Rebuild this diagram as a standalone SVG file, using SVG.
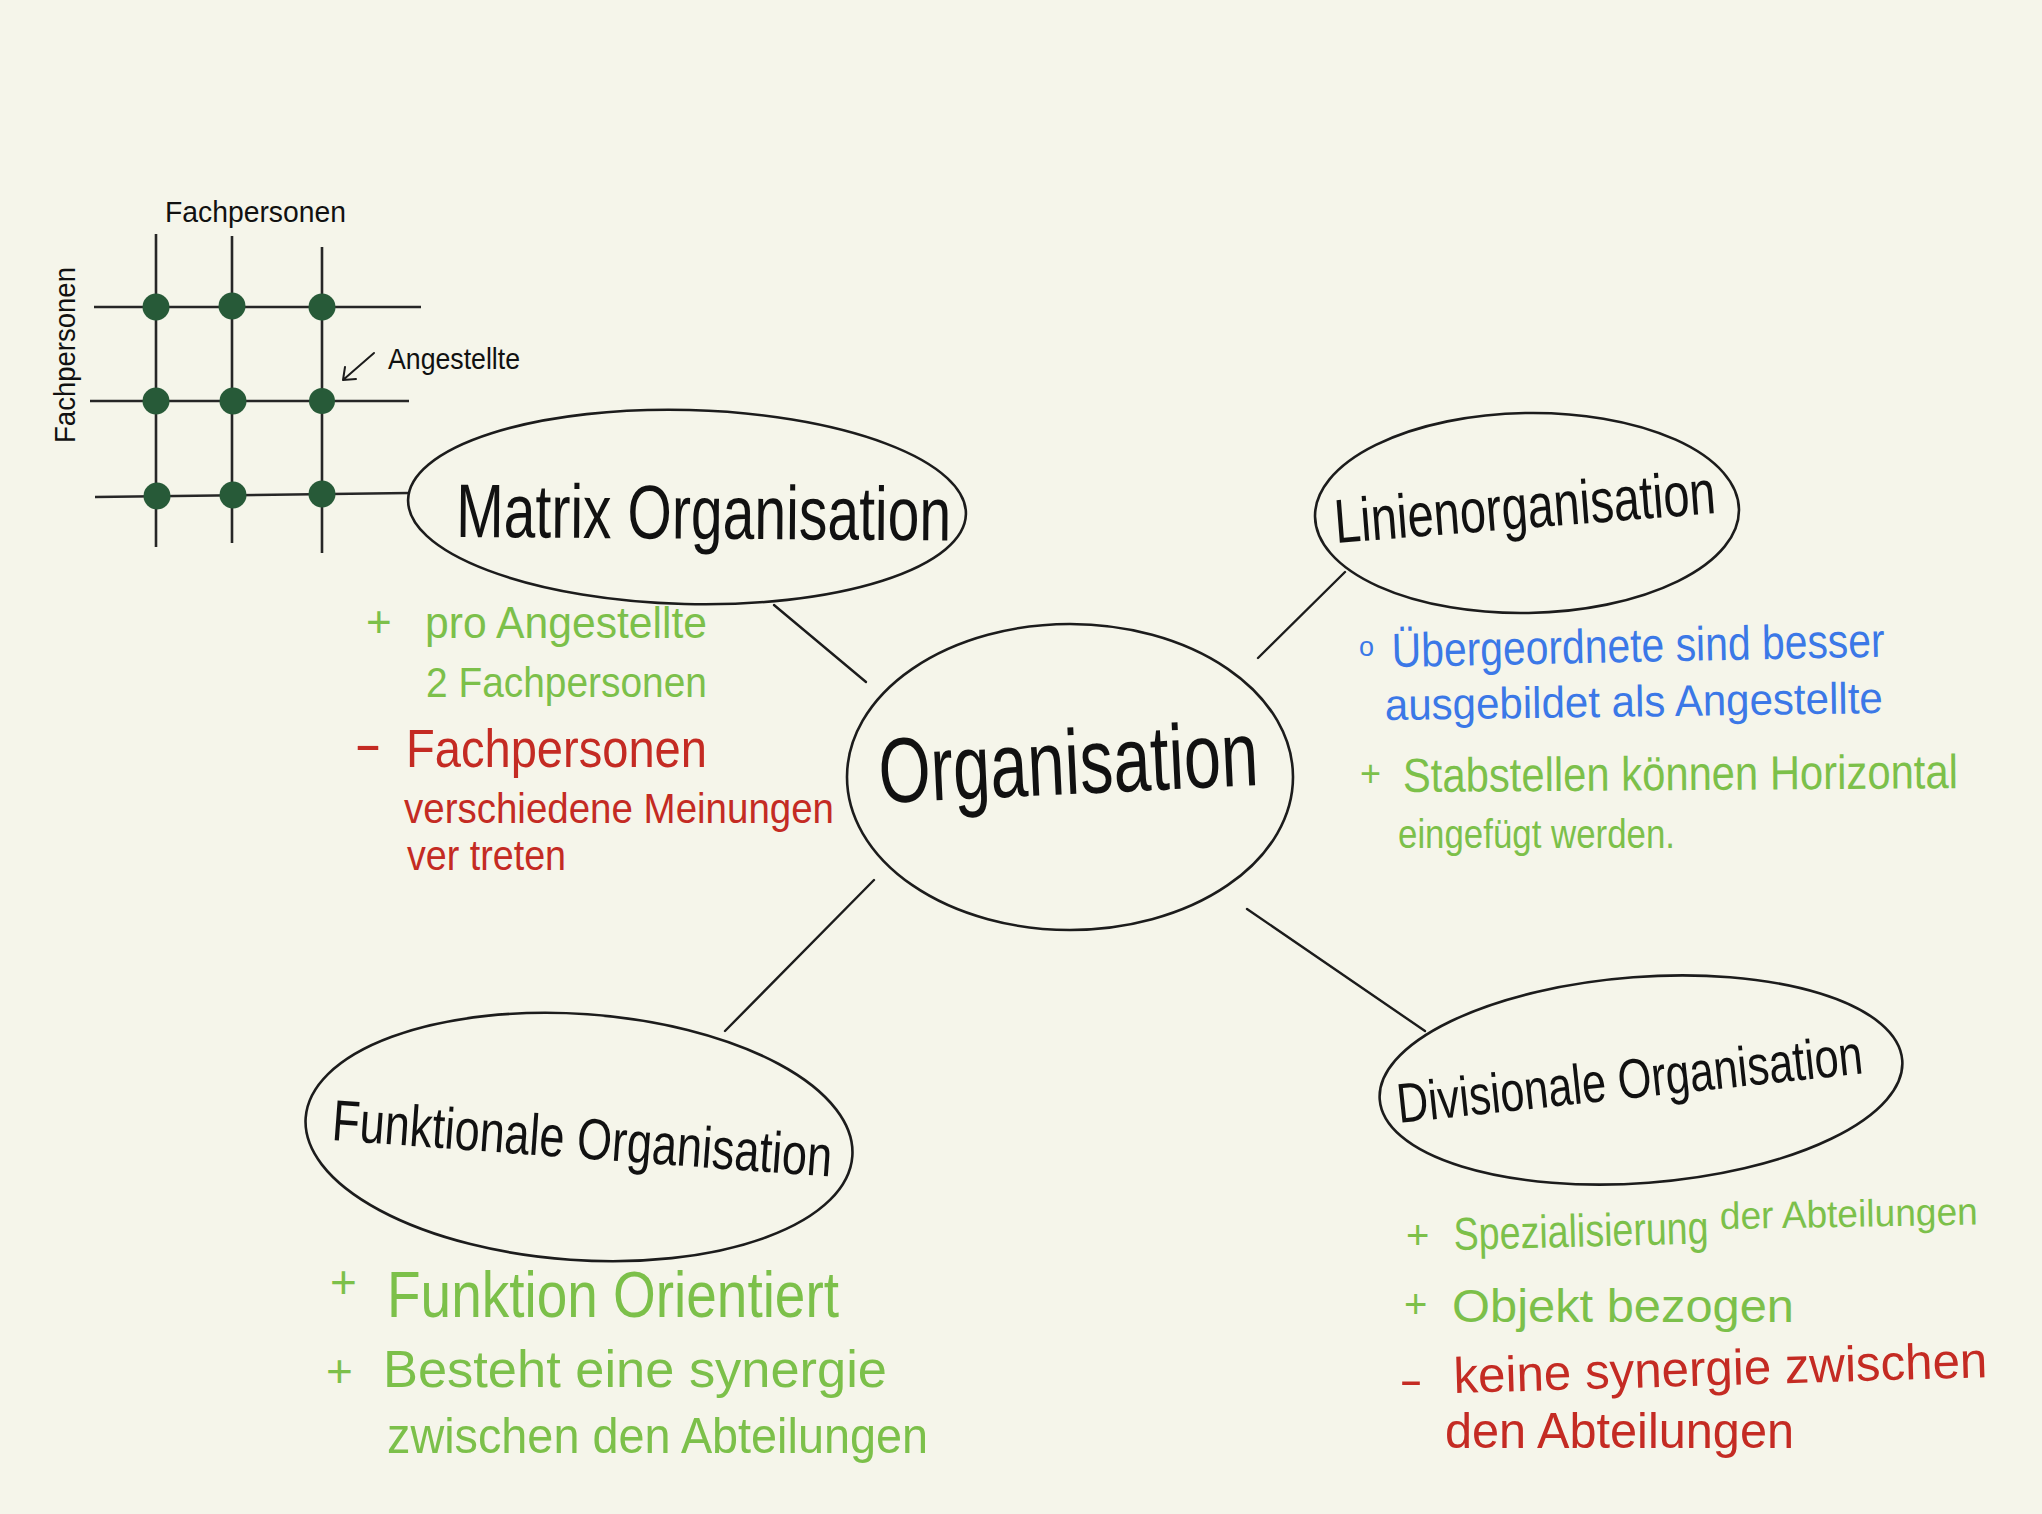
<svg xmlns="http://www.w3.org/2000/svg" width="2042" height="1514" viewBox="0 0 2042 1514">
<style>
text{font-family:"Liberation Sans","DejaVu Sans",sans-serif;}
.node{fill:none;stroke:#1c1c1c;stroke-width:2.6;}
.lbl{fill:#111;}
.edge{stroke:#1c1c1c;stroke-width:2.4;fill:none;stroke-linecap:round;}
.grid{stroke:#262626;stroke-width:2.6;fill:none;}
.dot{fill:#275a38;}
.g{fill:#7cc04a;}
.r{fill:#c42b23;}
.b{fill:#3b78e7;}
</style>
<rect x="0" y="0" width="2042" height="1514" fill="#f5f5ea"/>

<g id="connectors">
  <line class="edge" x1="774" y1="605" x2="866" y2="682"/>
  <line class="edge" x1="1345" y1="572" x2="1258" y2="658"/>
  <line class="edge" x1="874" y1="880" x2="725" y2="1031"/>
  <line class="edge" x1="1247" y1="909" x2="1425" y2="1031"/>
</g>

<g id="matrix-grid">
  <line class="grid" x1="156" y1="234" x2="156" y2="547"/>
  <line class="grid" x1="232" y1="236" x2="232" y2="543"/>
  <line class="grid" x1="322" y1="247" x2="322" y2="553"/>
  <line class="grid" x1="94" y1="307" x2="421" y2="307"/>
  <line class="grid" x1="90" y1="401" x2="409" y2="401"/>
  <line class="grid" x1="95" y1="497" x2="409" y2="493"/>
  <circle class="dot" cx="156" cy="307" r="13.5"/>
  <circle class="dot" cx="232" cy="306" r="13.5"/>
  <circle class="dot" cx="322" cy="307" r="13.5"/>
  <circle class="dot" cx="156" cy="401" r="13.5"/>
  <circle class="dot" cx="233" cy="401" r="13.5"/>
  <circle class="dot" cx="322" cy="401" r="13"/>
  <circle class="dot" cx="157" cy="496" r="13.5"/>
  <circle class="dot" cx="233" cy="495" r="13.5"/>
  <circle class="dot" cx="322" cy="494" r="13.5"/>
  <text x="165" y="222" font-size="30" textLength="181" lengthAdjust="spacingAndGlyphs" class="lbl">Fachpersonen</text>
  <text x="75" y="443" font-size="30" textLength="176" lengthAdjust="spacingAndGlyphs" class="lbl" transform="rotate(-90 75 443)">Fachpersonen</text>
  <text x="388" y="369" font-size="30" textLength="132" lengthAdjust="spacingAndGlyphs" class="lbl">Angestellte</text>
  <path d="M374,353 L343,380 M345,367 L343,380 L356,379" stroke="#1c1c1c" stroke-width="2" fill="none" stroke-linecap="round" stroke-linejoin="round"/>
</g>

<g id="node-organisation">
  <ellipse class="node" cx="1070" cy="777" rx="223" ry="153"/>
  <text x="880" y="803" font-size="92" textLength="380" lengthAdjust="spacingAndGlyphs" class="lbl" transform="rotate(-2.7 880 803)">Organisation</text>
</g>

<g id="node-matrix">
  <ellipse class="node" cx="687" cy="507" rx="279" ry="97" transform="rotate(1.5 687 507)"/>
  <text x="456" y="537" font-size="76" textLength="495" lengthAdjust="spacingAndGlyphs" class="lbl" transform="rotate(0.4 456 537)">Matrix Organisation</text>
</g>

<g id="node-linien">
  <ellipse class="node" cx="1527" cy="513" rx="212" ry="100" transform="rotate(-1 1527 513)"/>
  <text x="1336" y="543" font-size="62" textLength="382" lengthAdjust="spacingAndGlyphs" class="lbl" transform="rotate(-4.5 1336 543)">Linienorganisation</text>
</g>

<g id="node-funktional">
  <ellipse class="node" cx="579" cy="1137" rx="274" ry="123" transform="rotate(4 579 1137)"/>
  <text x="331" y="1140" font-size="58" textLength="501" lengthAdjust="spacingAndGlyphs" class="lbl" transform="rotate(4.2 331 1140)">Funktionale Organisation</text>
</g>

<g id="node-divisional">
  <ellipse class="node" cx="1641" cy="1080" rx="262" ry="103" transform="rotate(-4.3 1641 1080)"/>
  <text x="1399" y="1123" font-size="56" textLength="468" lengthAdjust="spacingAndGlyphs" class="lbl" transform="rotate(-6.1 1399 1123)">Divisionale Organisation</text>
</g>

<g id="notes-matrix">
  <text x="366" y="637" font-size="44" class="g">+</text>
  <text x="425" y="638" font-size="44" textLength="282" lengthAdjust="spacingAndGlyphs" class="g">pro Angestellte</text>
  <text x="426" y="697" font-size="42" textLength="281" lengthAdjust="spacingAndGlyphs" class="g">2 Fachpersonen</text>
  <text x="354" y="762" font-size="52" textLength="28" lengthAdjust="spacingAndGlyphs" class="r">-</text>
  <text x="406" y="767" font-size="54" textLength="301" lengthAdjust="spacingAndGlyphs" class="r">Fachpersonen</text>
  <text x="404" y="823" font-size="42" textLength="430" lengthAdjust="spacingAndGlyphs" class="r">verschiedene Meinungen</text>
  <text x="407" y="870" font-size="42" textLength="159" lengthAdjust="spacingAndGlyphs" class="r">ver treten</text>
</g>

<g id="notes-linien">
  <text x="1359" y="656" font-size="27" class="b">o</text>
  <text x="1392" y="667" font-size="48" textLength="493" lengthAdjust="spacingAndGlyphs" class="b" transform="rotate(-1.2 1392 667)">Übergeordnete sind besser</text>
  <text x="1385" y="720" font-size="44" textLength="498" lengthAdjust="spacingAndGlyphs" class="b" transform="rotate(-0.8 1385 720)">ausgebildet als Angestellte</text>
  <text x="1360" y="786" font-size="36" class="g">+</text>
  <text x="1403" y="792" font-size="48" textLength="555" lengthAdjust="spacingAndGlyphs" class="g" transform="rotate(-0.4 1403 792)">Stabstellen können Horizontal</text>
  <text x="1398" y="848" font-size="40" textLength="277" lengthAdjust="spacingAndGlyphs" class="g">eingefügt werden.</text>
</g>

<g id="notes-funktional">
  <text x="330" y="1298" font-size="46" class="g">+</text>
  <text x="387" y="1317" font-size="64" textLength="452" lengthAdjust="spacingAndGlyphs" class="g">Funktion Orientiert</text>
  <text x="326" y="1387" font-size="46" class="g">+</text>
  <text x="383" y="1387" font-size="52" textLength="504" lengthAdjust="spacingAndGlyphs" class="g">Besteht eine synergie</text>
  <text x="387" y="1453" font-size="50" textLength="541" lengthAdjust="spacingAndGlyphs" class="g">zwischen den Abteilungen</text>
</g>

<g id="notes-divisional">
  <text x="1406" y="1249" font-size="40" class="g">+</text>
  <text x="1454" y="1250" font-size="46" textLength="255" lengthAdjust="spacingAndGlyphs" class="g" transform="rotate(-1.5 1454 1250)">Spezialisierung</text>
  <text x="1720" y="1229" font-size="38" textLength="258" lengthAdjust="spacingAndGlyphs" class="g" transform="rotate(-1 1720 1229)">der Abteilungen</text>
  <text x="1404" y="1318" font-size="40" class="g">+</text>
  <text x="1452" y="1322" font-size="46" textLength="342" lengthAdjust="spacingAndGlyphs" class="g">Objekt bezogen</text>
  <text x="1399" y="1395" font-size="44" textLength="24" lengthAdjust="spacingAndGlyphs" class="r">-</text>
  <text x="1454" y="1393" font-size="50" textLength="534" lengthAdjust="spacingAndGlyphs" class="r" transform="rotate(-1.7 1454 1393)">keine synergie zwischen</text>
  <text x="1445" y="1448" font-size="50" textLength="349" lengthAdjust="spacingAndGlyphs" class="r">den Abteilungen</text>
</g>
</svg>
